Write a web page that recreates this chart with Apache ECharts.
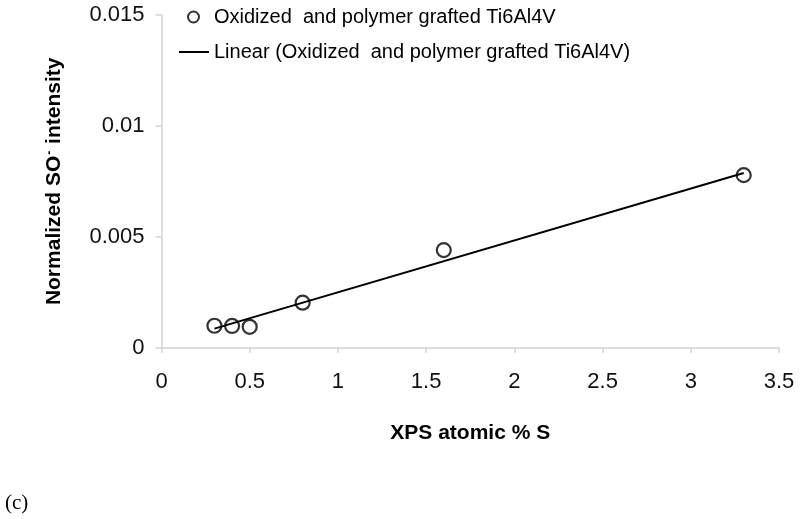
<!DOCTYPE html>
<html>
<head>
<meta charset="utf-8">
<script src="https://cdn.jsdelivr.net/npm/echarts@6/dist/echarts.min.js"></script>
<style>
  html, body { margin: 0; padding: 0; background: #fff; }
  #chart { width: 800px; height: 519px; }
</style>
</head>
<body>
<div id="chart"></div>
<script>
// XPS atomic % S vs normalized SO- intensity
const seriesName = 'Oxidized  and polymer grafted Ti6Al4V'
const trendName = 'Linear (Oxidized  and polymer grafted Ti6Al4V)'
const xpsS = [0.3, 0.4, 0.5, 0.8, 1.6, 3.3]
const soIntensity = [0.00099, 0.00098, 0.00094, 0.00203, 0.0044, 0.00778]
// trendline ends
const trendX = [0.3, 3.3]
const trendY = [0.00086, 0.00788]
const xTicks = [0, 0.5, 1, 1.5, 2, 2.5, 3, 3.5]
const yTicks = [0, 0.005, 0.01, 0.015]

const chart = echarts.init(document.getElementById('chart'))
const font = 'Liberation Sans, Arial, sans-serif'
const legendText = { fontSize: 20, color: '#000', fontFamily: font }

chart.setOption({
  animation: false,
  backgroundColor: '#fff',
  textStyle: { fontFamily: font },
  legend: [
    {
      left: 182,
      top: 2,
      itemWidth: 11,
      itemHeight: 11,
      textStyle: Object.assign({ padding: [0, 0, 0, 10] }, legendText),
      data: [seriesName]
    },
    {
      left: 173,
      top: 37,
      itemWidth: 30,
      itemHeight: 11,
      textStyle: legendText,
      // only the line in the legend, no dot
      data: [{ name: trendName, itemStyle: { opacity: 0 } }]
    }
  ],
  grid: {
    left: 161.5,
    right: 21,
    top: 15,
    bottom: 171.3
  },
  xAxis: {
    type: 'value',
    min: 0,
    max: 3.5,
    interval: 0.5,
    name: 'XPS atomic % S',
    nameLocation: 'middle',
    nameGap: 75,
    nameTextStyle: { fontSize: 21, fontWeight: 'bold', color: '#000', fontFamily: font, verticalAlign: 'top' },
    axisLine: { lineStyle: { color: '#d4d4d4', width: 1.5 } },
    axisTick: { show: true, length: 5, lineStyle: { color: '#d4d4d4', width: 1.5 } },
    axisLabel: {
      fontSize: 22,
      color: '#111',
      margin: 23,
      formatter: v => xTicks.includes(v) ? String(v) : ''
    },
    splitLine: { show: false }
  },
  yAxis: {
    type: 'value',
    min: 0,
    max: 0.015,
    interval: 0.005,
    name: 'Normalized SO{sup|-} intensity',
    nameLocation: 'middle',
    nameGap: 97,
    nameTextStyle: {
      fontSize: 21,
      fontWeight: 'bold',
      color: '#000',
      fontFamily: font,
      rich: {
        sup: { fontSize: 12, fontWeight: 'bold', color: '#000', verticalAlign: 'top', padding: [0, 1, 8, 1] }
      }
    },
    axisLine: { show: true, lineStyle: { color: '#d4d4d4', width: 1.5 } },
    axisTick: { show: true, length: 6, lineStyle: { color: '#d4d4d4', width: 1.5 } },
    axisLabel: {
      fontSize: 22,
      color: '#111',
      margin: 17,
      formatter: v => yTicks.includes(+v.toFixed(4)) ? String(+v.toFixed(4)) : ''
    },
    splitLine: { show: false }
  },
  series: [
    {
      name: seriesName,
      type: 'scatter',
      symbol: 'circle',
      symbolSize: 14,
      itemStyle: { color: 'rgba(255,255,255,0)', borderColor: '#000', borderWidth: 2.2 },
      data: xpsS.map((x, i) => [x, soIntensity[i]]),
      z: 3
    },
    {
      name: trendName,
      type: 'line',
      symbol: 'none',
      lineStyle: { color: '#000', width: 2 },
      itemStyle: { color: '#000' },
      data: trendX.map((x, i) => [x, trendY[i]]),
      z: 2
    }
  ],
  graphic: [
    {
      type: 'text',
      left: 5,
      top: 493,
      style: { text: '(c)', font: '21px "Liberation Serif", "Times New Roman", serif', fill: '#000' }
    }
  ]
})
</script>
</body>
</html>
